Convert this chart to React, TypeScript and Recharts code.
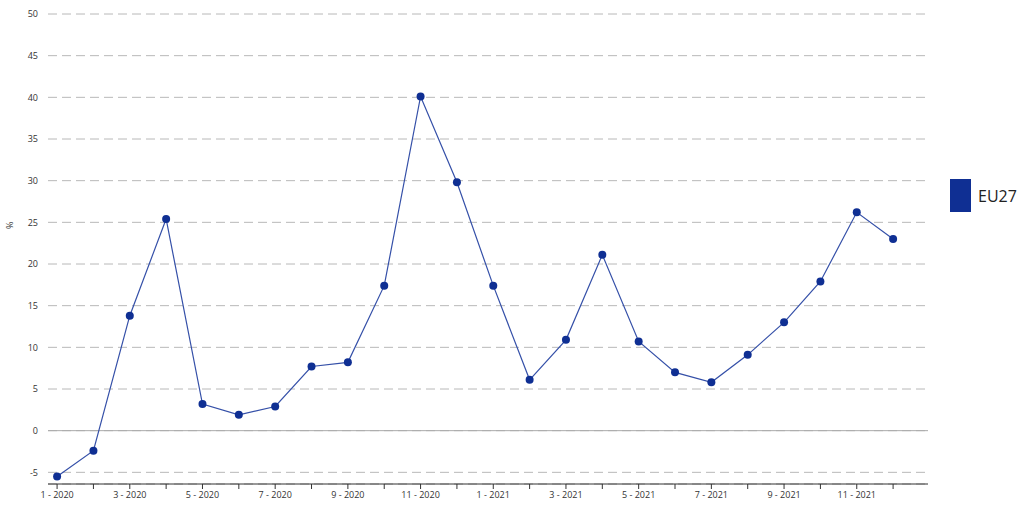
import {
  LineChart,
  Line,
  XAxis,
  YAxis,
  CartesianGrid,
  ReferenceLine,
} from "recharts";

const months = [
  "1 - 2020", "2 - 2020", "3 - 2020", "4 - 2020", "5 - 2020", "6 - 2020",
  "7 - 2020", "8 - 2020", "9 - 2020", "10 - 2020", "11 - 2020", "12 - 2020",
  "1 - 2021", "2 - 2021", "3 - 2021", "4 - 2021", "5 - 2021", "6 - 2021",
  "7 - 2021", "8 - 2021", "9 - 2021", "10 - 2021", "11 - 2021", "12 - 2021",
];

const eu27 = [
  -5.5, -2.4, 13.8, 25.4, 3.2, 1.9, 2.9, 7.7, 8.2, 17.4, 40.1, 29.8,
  17.4, 6.1, 10.9, 21.1, 10.7, 7.0, 5.8, 9.1, 13.0, 17.9, 26.2, 23.0,
];

const yTicks = [-5, 0, 5, 10, 15, 20, 25, 30, 35, 40, 45, 50];

const data = months.map((m, i) => ({ i, label: m, value: eu27[i] }));
const xTicks = months.map((_, i) => i);

const FONT = "'Open Sans', sans-serif";
const SERIES = "#0f2f93";

// legend kept outside the chart so it doesn't shrink the plot area
function LegendBox() {
  return (
    <div
      style={{
        position: "absolute",
        left: 950,
        top: 179,
        display: "flex",
        alignItems: "center",
        fontFamily: FONT,
      }}
    >
      <span
        style={{
          width: 21,
          height: 33,
          background: SERIES,
          display: "inline-block",
          marginRight: 7,
        }}
      />
      <span style={{ fontSize: 16, color: "#222" }}>EU27</span>
    </div>
  );
}

export default function App() {
  return (
    <div
      style={{
        position: "absolute",
        left: 0,
        top: 0,
        width: 1024,
        height: 512,
        background: "#fff",
      }}
    >
      <LineChart
        width={1024}
        height={512}
        data={data}
        margin={{ top: 14, right: 96, bottom: 4, left: 0 }}
      >
        <CartesianGrid
          vertical={false}
          stroke="#b8b8b8"
          strokeDasharray="9 5"
        />
        <ReferenceLine y={0} stroke="#aaaaaa" strokeWidth={1} />
        <XAxis
          dataKey="i"
          type="number"
          height={24}
          domain={[-0.25, 23.96]}
          ticks={xTicks}
          interval={0}
          allowDataOverflow
          tickFormatter={(v: number) => (v % 2 === 0 ? months[v] : "")}
          tick={{ fontSize: 9, fill: "#333", fontFamily: FONT }}
          stroke="#333"
          tickSize={5}
          tickMargin={3}
        />
        <YAxis
          width={48}
          domain={[-6.4, 50]}
          ticks={yTicks}
          allowDataOverflow
          axisLine={false}
          tickLine={false}
          tickSize={0}
          tickMargin={10}
          tick={{ fontSize: 9, fill: "#333", fontFamily: FONT }}
          label={{
            value: "%",
            angle: -90,
            position: "insideLeft",
            offset: 10,
            dy: -20,
            style: { fontSize: 9, fill: "#333", fontFamily: FONT },
          }}
        />
        <Line
          dataKey="value"
          stroke="#3550a8"
          strokeWidth={1.2}
          dot={{ r: 4, fill: SERIES, stroke: SERIES, strokeWidth: 0 }}
          activeDot={false}
          isAnimationActive={false}
        />
      </LineChart>
      <LegendBox />
    </div>
  );
}
